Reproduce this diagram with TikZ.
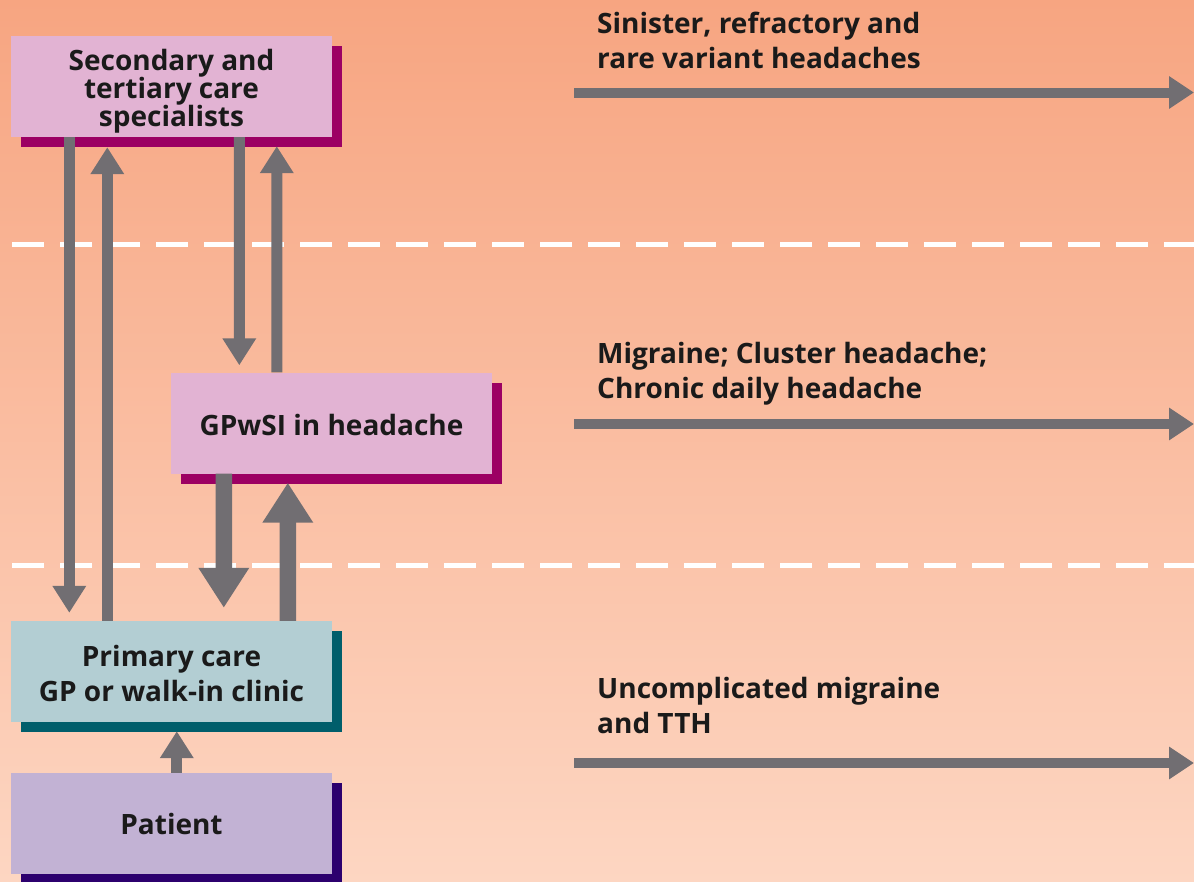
\documentclass[tikz,border=0pt]{standalone}
\usepackage{fontspec}
\setmainfont{Open Sans}
\usetikzlibrary{arrows.meta,shadows}
\definecolor{bgtop}{HTML}{F7A581}
\definecolor{bgbot}{HTML}{FDD6C2}
\definecolor{pinkbox}{HTML}{E2B3D3}
\definecolor{magshadow}{HTML}{9C0063}
\definecolor{bluebox}{HTML}{B3CED3}
\definecolor{tealshadow}{HTML}{005E6B}
\definecolor{lavbox}{HTML}{C2B2D4}
\definecolor{purpshadow}{HTML}{2C006E}
\definecolor{arrgray}{HTML}{716E72}
\definecolor{txt}{HTML}{1A1A1A}
\tikzset{
  box/.style={draw=none, minimum width=321bp, minimum height=101bp, inner sep=0pt,
    align=center, text=txt, font=\bfseries\fontsize{28bp}{35bp}\selectfont},
  shad/.style={drop shadow={shadow xshift=10bp, shadow yshift=-10bp, fill=#1, opacity=1}},
  thinarr/.style={draw=arrgray, line width=11bp, -{Triangle[width=32bp,length=27bp]}},
  thickarr/.style={draw=arrgray, line width=16.5bp, -{Triangle[width=48bp,length=40bp]}},
  rightarr/.style={draw=arrgray, line width=10bp, -{Triangle[width=31bp,length=25bp]}},
  dashline/.style={draw=white, line width=5bp, dash pattern=on 32bp off 16bp},
  lbl/.style={inner sep=0pt, align=left, text=txt, font=\bfseries\fontsize{28bp}{35bp}\selectfont}
}
\begin{document}
\begin{tikzpicture}[x=1bp,y=-1bp]
\shade[top color=bgtop,bottom color=bgbot] (0,0) rectangle (1194,882);
\useasboundingbox (0,0) rectangle (1194,882);
% dashed separators
\coordinate (d1s) at (12,244.5); \coordinate (d1e) at (1194,244.5);
\coordinate (d2s) at (12,565); \coordinate (d2e) at (1194,565);
\draw[dashline] (d1s) -- (d1e);
\draw[dashline] (d2s) -- (d2e);
% boxes
\node[box, fill=pinkbox, shad=magshadow, font=\bfseries\fontsize{28bp}{28bp}\selectfont] (sec) at (171.5,86.5) {\rule{0pt}{31bp}Secondary and\\tertiary care\\specialists};
\node[box, fill=pinkbox, shad=magshadow] (gp) at (331.5,423) {\rule{0pt}{25bp}GPwSI in headache};
\node[box, fill=bluebox, shad=tealshadow] (prim) at (171.5,671.5) {\rule{0pt}{25bp}Primary care\\GP or walk-in clinic};
\node[box, fill=lavbox, shad=purpshadow] (pat) at (171.5,823.5) {Patient};
% vertical arrows
\draw[thinarr] ([xshift=58.5bp]sec.south west) -- ([xshift=58.5bp,yshift=8bp]prim.north west);
\draw[thinarr] ([xshift=96.5bp]prim.north west) -- ([xshift=96.5bp,yshift=-10bp]sec.south west);
\draw[thinarr] ([xshift=228.5bp]sec.south west) -- ([xshift=68.5bp,yshift=7bp]gp.north west);
\draw[thinarr] ([xshift=106bp]gp.north west) -- ([xshift=266bp,yshift=-9bp]sec.south west);
\draw[thickarr] ([xshift=53bp]gp.south west) -- ([xshift=213bp,yshift=13bp]prim.north west);
\draw[thickarr] ([xshift=277bp]prim.north west) -- ([xshift=117bp,yshift=-9bp]gp.south west);
\draw[thinarr] ([xshift=166bp]pat.north west) -- ([xshift=166bp,yshift=-9bp]prim.south west);
% right arrows
\coordinate (r1s) at (574,92.5); \coordinate (r1e) at (1194,92.5);
\coordinate (r2s) at (574,424); \coordinate (r2e) at (1194,424);
\coordinate (r3s) at (574,763); \coordinate (r3e) at (1194,763);
\draw[rightarr] (r1s) -- (r1e);
\draw[rightarr] (r2s) -- (r2e);
\draw[rightarr] (r3s) -- (r3e);
% labels
\node[lbl, anchor=base west] (l1) at (597,68) {Sinister, refractory and\\rare variant headaches};
\node[lbl, anchor=base west] (l2) at (597,398) {Migraine; Cluster headache;\\Chronic daily headache};
\node[lbl, anchor=base west] (l3) at (597,733) {Uncomplicated migraine\\and TTH};
\end{tikzpicture}
\end{document}
